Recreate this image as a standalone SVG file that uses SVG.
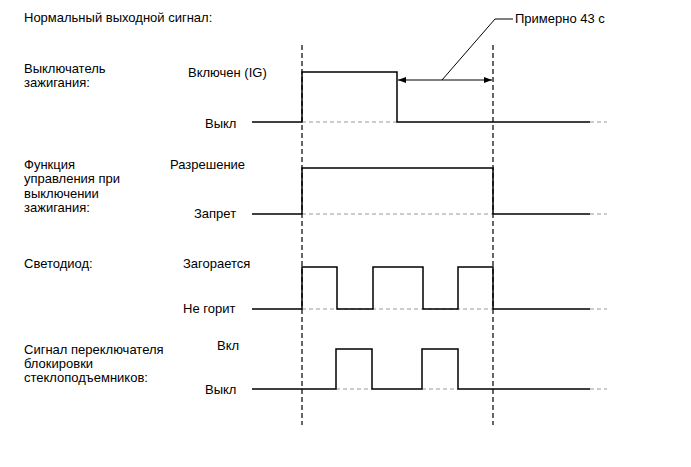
<svg xmlns="http://www.w3.org/2000/svg" width="691" height="467" viewBox="0 0 691 467">
<defs>
<style>
text{font-family:"Liberation Sans",Arial,sans-serif;font-size:13px;fill:#000}
.sig{fill:none;stroke:#000;stroke-width:1.5}
.ref{fill:none;stroke:#999;stroke-width:1.2;stroke-dasharray:4 3}
.vd{fill:none;stroke:#000;stroke-width:1.2;stroke-dasharray:5 3}
.thin{fill:none;stroke:#000;stroke-width:1}
</style>
<marker id="ah" viewBox="0 0 8 6" refX="8" refY="3" markerWidth="8" markerHeight="6" orient="auto-start-reverse" markerUnits="userSpaceOnUse">
<path d="M0,0 L8,3 L0,6 Z" fill="#000"/>
</marker>
</defs>
<rect width="691" height="467" fill="#fff"/>
<text x="24" y="22">Нормальный выходной сигнал:</text>
<g id="connectors">
<line class="vd" x1="302" y1="45" x2="302" y2="425"/>
<line class="vd" x1="493" y1="45" x2="493" y2="425"/>
<line class="thin" x1="398" y1="80" x2="492" y2="80" marker-start="url(#ah)" marker-end="url(#ah)"/>
<polyline class="thin" points="442,80 495,19 513,19"/>
</g>
<g id="label43"><text x="515" y="23">Примерно 43 с</text></g>
<g id="ignition">
<text x="24" y="73">Выключатель</text>
<text x="24" y="87">зажигания:</text>
<text x="188" y="77">Включен (IG)</text>
<text x="205" y="128">Выкл</text>
<line class="ref" x1="302" y1="122" x2="397" y2="122"/>
<line class="ref" x1="590" y1="122" x2="607" y2="122"/>
<polyline class="sig" points="252,122 302,122 302,72 397,72 397,122 590,122"/>
</g>
<g id="offcontrol">
<text x="24" y="169">Функция</text>
<text x="24" y="183">управления при</text>
<text x="24" y="197.5">выключении</text>
<text x="24" y="211.5">зажигания:</text>
<text x="170" y="169">Разрешение</text>
<text x="194" y="218">Запрет</text>
<line class="ref" x1="302" y1="214" x2="493" y2="214"/>
<line class="ref" x1="590" y1="214" x2="607" y2="214"/>
<polyline class="sig" points="252,214 302,214 302,168 493,168 493,214 590,214"/>
</g>
<g id="led">
<text x="24" y="268">Светодиод:</text>
<text x="183" y="268">Загорается</text>
<text x="183" y="313">Не горит</text>
<line class="ref" x1="302" y1="309" x2="493" y2="309"/>
<line class="ref" x1="590" y1="309" x2="607" y2="309"/>
<polyline class="sig" points="252,309 302,309 302,267 337,267 337,309 373,309 373,267 423,267 423,309 458,309 458,267 493,267 493,309 590,309"/>
</g>
<g id="lockswitch">
<text x="24" y="354">Сигнал переключателя</text>
<text x="24" y="368">блокировки</text>
<text x="24" y="382">стеклоподъемников:</text>
<text x="217" y="350">Вкл</text>
<text x="205" y="394">Выкл</text>
<line class="ref" x1="336" y1="389" x2="372" y2="389"/>
<line class="ref" x1="422" y1="389" x2="458" y2="389"/>
<line class="ref" x1="590" y1="389" x2="607" y2="389"/>
<polyline class="sig" points="252,389 336,389 336,349 372,349 372,389 422,389 422,349 458,349 458,389 590,389"/>
</g>
</svg>
